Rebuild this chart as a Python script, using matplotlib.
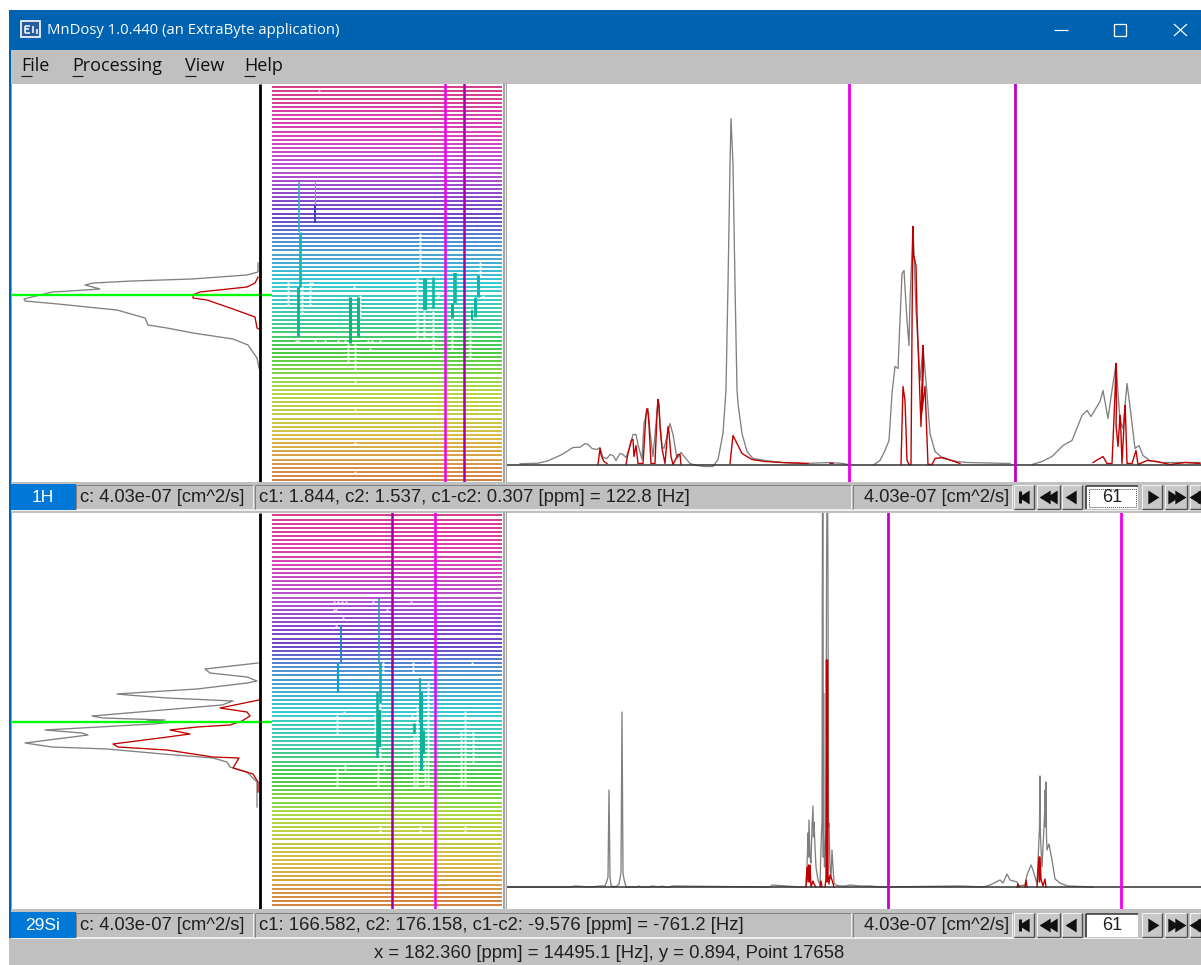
import numpy as np
import matplotlib
matplotlib.use("Agg")
import matplotlib.pyplot as plt
from matplotlib.colors import LinearSegmentedColormap
from matplotlib.patches import Rectangle

# ---------- text ----------
TITLE = "MnDosy 1.0.440 (an ExtraByte application)"
MENU = ["File", "Processing", "View", "Help"]
NUCLEI = ["1H", "29Si"]
LEFT_STATUS = ["c: 4.03e-07 [cm^2/s]", "c: 4.03e-07 [cm^2/s]"]
MID_STATUS = ["c1: 1.844, c2: 1.537, c1-c2: 0.307 [ppm] = 122.8 [Hz]",
              "c1: 166.582, c2: 176.158, c1-c2: -9.576 [ppm] = -761.2 [Hz]"]
RIGHT_STATUS = ["4.03e-07 [cm^2/s]", "4.03e-07 [cm^2/s]"]
ROW_INDEX = "61"
BOTTOM = "x = 182.360 [ppm] = 14495.1 [Hz], y = 0.894, Point 17658"

# ---------- 1H 1D spectrum ----------
h1_gray_x = [520,538,548,562,573,580,585,588,592,597,600,603,607,610,613,616,620,623,626,629,633,636,638,642,644,648,650,653,656,658,662,664,667,670,673,677,681,685,690,697,705,713,718,723,726,728,730,731,733,735,737,738,742,747,753,765,782,805,830,843,848]
h1_gray_y = [.7,1.3,3.7,10,17,17.3,21,20,16,15,17,7,6,10,9,4,11,10,7,15,30,30,20,5,41,56,33,8,41,65,18,16,28,41,30,6,12,7,1,-1,-2,-2,5,31,75,180,300,346,300,180,75,61,31,13,6,4,2,1,2,1,0]
h1_gray2_x = [874,880,885,889,892,895,898,900,902,904,907,909,910,913,916,918,920,923,927,930,935,943,957,967,1010]
h1_gray2_y = [0,4,14,24,71,98,96,144,191,194,144,119,164,238,154,121,84,118,71,31,13,6,3,2,1]
h1_gray3_x = [1032,1042,1052,1063,1072,1082,1087,1091,1100,1103,1108,1112,1116,1120,1123,1127,1130,1135,1139,1143,1150,1160,1200]
h1_gray3_y = [0,3,8,19,24,49,54,48,63,74,46,74,101,44,36,81,58,16,19,9,4,2,2]
h1_red_x = [598,600,601,602,604,607,None,626,628,631,632,633,634,636,638,640,643,646,647,648,649,651,655,657,658,659,660,662,665,667,668,669,671,673,677,678,680,681,None,730,733,737,742,752,765,782,808,None,830,833,None,
            901,903,905,907,909,911,912.5,913,913.5,916,917,918,921,923,923.5,921.5,925,928,932,935,943,960,None,1093,1103,1107,1112,1115,1116,1116.5,1116,1118,1120,1120.5,1122,1125,1125.5,1127,1132,1136,1138,1147,1157,1170,1185,1200]
h1_red_y = [0,16,10,7,3,1,None,0,11,23,25,25,8,19,1,1,1,50,56,52,40,1,1,50,65,60,38,16,1,25,38,32,8,0,8,10,10,0,None,1,29,21,11,5,3,2,1,None,1,1,None,
            0,78,64,4,0,0,200,238,210,199,151,121,38,119,100,50,78,0,0,6,7,1,None,2,8,1,1,70,101,60,40,18,49,45,1,59,50,1,1,14,0,4,3,0,2,1]

# ---------- 29Si 1D spectrum ----------
si_gray_x = [508,570,575,590,600,605,607,608,609,610,611,613,617,619,621,622,623,624,626,637,639,641,650,652,660,662,665,670,672,770,772,800,806,807,808,808.5,809,810,811,812,813,813.5,814,815,816,818,820,821,822,822.5,823,823.3,823.6,824,824.5,826,826.5,827,827.5,828,828.5,829,830,831,832,833,834,836,840,845,850,860,870,880,960,
             983,990,1000,1003,1007,1010,1017,1019,1025,1027,1031,1033,1037,1039.5,1040,1040.5,1042,1044.5,1045,1045.5,1046,1046.5,1047,1049,1052,1055,1060,1065,1068,1093]
si_gray_y = [0,0,1,0,1,1,6,10,97,10,2,0,1,3,14,175,14,8,0,0,1,0,0,1,0,1,0,0,1,0,2,0,0,20,54,30,67,30,24,60,81,50,65,40,20,7,2,40,67,400,400,30,194,40,20,60,307,400,400,307,60,64,20,8,37,20,4,2,1,1,2,1,1,0,1,
             0,2,7,4,13,7,5,1,2,12,22,17,3,60,111,50,20,70,97,60,105,50,37,43,27,8,4,2,1,0]
si_red_x = [806,807,808,808.5,809.5,810,811,813,814,816,None,820,821,822,None,825,826,826.5,827,827.5,828,829,830,832,834,None,1017,1018,1019,None,1025,1026,1027,None,1037,1039,1039.5,1040,1041,1043,1045,1046]
si_red_y = [0,20,5,22,5,22,0,6,3,0,None,0,6,0,None,0,8,227,5,227,12,3,12,7,0,None,0,3,0,None,0,7,0,None,0,30,5,30,8,1,8,0]

# ---------- projections (position along the row axis, intensity from the axis) ----------
p1_gray_pos = [263,272,275,279,281,283,285,289,291,292,299,301,304,308,310,318,325,328,333,339,345,358,368]
p1_gray_val = [2,2,13,68,128,167,175,160,190,208,236,235,202,163,143,115,112,93,67,27,12,3,1]
p1_red_pos = [277,283,287,292,295,298,300,309,317,328,329]
p1_red_val = [2,5,13,60,67,67,53,27,5,3,1]
p2_gray_pos = [663,669,673,677,681,683,689,693,694,695,698,701,705,716,718,720,721,722,724,730,733,735,743,747,749,754,758,762,767,772,782,807]
p2_gray_val = [2,55,50,13,3,13,63,128,143,132,93,27,38,168,157,95,113,85,107,215,178,172,235,208,153,97,47,33,30,13,3,3]
p2_red_pos = [700,708,712,716,721,725,727,730,734,738,744,747,750,757,758,768,774,782,792]
p2_red_val = [1,40,13,10,18,30,63,90,70,100,147,142,93,47,21,27,7,2,2]

# ---------- 2D map peaks: x, first row, last row, width, colour ----------
map1_peaks = [(299,182,232,1.6,"#30b0b8"),(300,232,287,2.6,"#10b8a8"),(298,287,337,2.8,"#10b090"),
              (315,182,205,1.2,"#a080d0"),(315,205,223,2.0,"#4040c0"),
              (350,297,343,3.0,"#10b080"),(358,297,337,3.0,"#10b888"),
              (425,278,310,4.0,"#10b8a0"),(433,277,308,2.6,"#10b8a0"),(455,273,303,3.6,"#10b8a0"),
              (452,303,318,3.0,"#10b090"),(478,275,297,3.0,"#10b8b0"),(475,297,317,3.0,"#10b8a0"),(472,310,320,2.0,"#10b090")]
map2_peaks = [(341,625,662,1.8,"#2080c0"),(338,663,693,2.2,"#10a0c0"),(379,598,663,1.6,"#20a0b0"),
              (380,663,703,2.6,"#10b0b0"),(377,692,757,2.6,"#10b0a0"),(379,710,747,4.4,"#10b090"),
              (420,678,723,1.8,"#10b0b0"),(421,692,770,3.0,"#10b0a0"),(414,723,733,2.6,"#10b090"),(423,730,753,3.0,"#10b090")]
# white breaks in the rows: x, first row, last row
map1_breaks = [(288,280,307),(310,280,307),(420,233,272),(417,277,340),(424,310,340),(433,308,350),(452,318,350),
               (470,320,360),(480,262,277),(483,295,299),(438,295,299),(355,343,372),(348,343,362),(296,338,342),
               (315,338,342),(325,338,342),(338,338,342),(345,338,342),(368,338,342),(372,338,342),(380,338,342),
               (298,310,342),(302,285,315),(312,280,284),(319,90,92),(354,285,290),(360,295,320),(355,380,384),(355,410,414),(355,440,444),(355,470,474),(370,348,352)]
map2_breaks = [(334,600,603),(338,600,603),(342,600,603),(346,600,603),(334,608,612),(336,608,612),(343,618,622),(336,625,630),
               (373,598,603),(387,608,612),(411,600,603),(383,662,672),(413,662,672),(417,707,790),(428,680,787),(434,700,710),
               (465,710,787),(461,730,790),(473,732,762),(337,715,733),(344,712,716),(337,767,787),(345,765,770),(378,763,787),
               (384,765,770),(412,715,717),(432,662,665),(472,660,664),(380,700,760),(375,715,735),(414,733,790),(425,760,790),
               (380,825,835),(420,825,835),(465,825,835)]

# ---------- cursors ----------
map1_cursors = [(445,"#f000f0"),(464,"#a800a8")]
map2_cursors = [(392,"#a000a0"),(435,"#f000f0")]
spec1_cursors = [(849,"#e800e8"),(1015,"#c000c8")]
spec2_cursors = [(888,"#c800d0"),(1121,"#f000f0")]

# ---------- row colours, top to bottom ----------
row_stops = [(0,"#d01878"),(0.12,"#d020a8"),(0.21,"#a830c8"),(0.33,"#5020c0"),(0.39,"#3078c8"),(0.5,"#10c0c8"),
             (0.59,"#20c098"),(0.67,"#20c020"),(0.77,"#a0d020"),(0.89,"#d0b020"),(1,"#d06820")]

W, H = 1201, 965
GRAY_UI = "#c0c0c0"
BLUE = "#0063b1"
plt.rcParams["font.family"] = ["Liberation Sans", "DejaVu Sans"]
fig = plt.figure(figsize=(W/100, H/100), dpi=100, facecolor="white")

def px_axes(x0, y0, x1, y1, z=1):
    a = fig.add_axes([x0/W, 1-y1/H, (x1-x0)/W, (y1-y0)/H], zorder=z)
    a.set_axis_off()
    return a

ui = px_axes(0, 0, W, H, 0)
ui.set_xlim(0, W); ui.set_ylim(H, 0)
def box(x0, y0, x1, y1, c, z=1):
    ui.add_patch(Rectangle((x0, y0), x1-x0, y1-y0, fc=c, ec="none", zorder=z))
def seg(x0, y0, x1, y1, c, lw=1.0, z=3):
    ui.plot([x0, x1], [y0, y1], color=c, lw=lw*0.72, zorder=z, solid_capstyle="butt")

# window chrome
box(9, 10, W, H, GRAY_UI)
box(9, 10, W, 50, BLUE, 2)
box(9, 50, 10.5, 938, BLUE, 2)
ui.text(47, 30, TITLE, color="white", fontsize=10.7, family="Open Sans", va="center", ha="left", zorder=5)
# app icon
ui.add_patch(Rectangle((21, 21), 19, 16, fc="#2a5c9c", ec="white", lw=1.2, zorder=5))
seg(25, 26, 30, 26, "white", 1.5, 6); seg(25, 26, 25, 33, "white", 1.5, 6); seg(25, 33, 30, 33, "white", 1.5, 6)
seg(25, 29, 29, 29, "white", 1.5, 6); seg(33, 26, 33, 33, "white", 1.5, 6); seg(37, 29, 37, 34, "white", 1.5, 6)
# window buttons
seg(1054, 30, 1068, 30, "white", 1.2, 5)
ui.add_patch(Rectangle((1114, 24), 12, 12, fc="none", ec="white", lw=0.9, zorder=5))
seg(1174, 24, 1187, 36, "white", 1.2, 5); seg(1187, 24, 1174, 36, "white", 1.2, 5)
# menu
menu_x = [21, 72, 185, 244]
ul_w = [11, 11, 11, 11]
for t, x, w_ in zip(MENU, menu_x, ul_w):
    ui.text(x, 66, t, fontsize=13.0, color="#101010", family="Open Sans", va="center", ha="left", zorder=5)
    seg(x, 76, x+w_, 76, "#202020", 1.2, 6)

panels = [dict(top=84, bot=482, base=464.5, st=484),
          dict(top=513, bot=909, base=887, st=912)]
rows_cmap = LinearSegmentedColormap.from_list("rows", row_stops)
maps = [(map1_peaks, map1_breaks, map1_cursors), (map2_peaks, map2_breaks, map2_cursors)]
spec_cursors = [spec1_cursors, spec2_cursors]
proj = [(p1_gray_pos, p1_gray_val, p1_red_pos, p1_red_val, 294.5),
        (p2_gray_pos, p2_gray_val, p2_red_pos, p2_red_val, 722)]
spec_gray = [[(h1_gray_x, h1_gray_y), (h1_gray2_x, h1_gray2_y), (h1_gray3_x, h1_gray3_y)], [(si_gray_x, si_gray_y)]]
spec_red = [(h1_red_x, h1_red_y), (si_red_x, si_red_y)]
GR, RD = "#808080", "#c00000"
LEFT_TRI = [(-1, 0), (0.6, 1.0), (0.6, -1.0)]
RIGHT_TRI = [(1, 0), (-0.6, 1.0), (-0.6, -1.0)]

for i, p in enumerate(panels):
    top, bot, base, st = p["top"], p["bot"], p["base"], p["st"]
    box(10.5, top, 12, bot, "#a0a0a0", 3)
    box(12, top, W, bot, "white", 2)
    box(503, top-1, 507, bot, "#a8a8a8", 3)
    seg(505, top-1, 505, bot, "#e8e8e8", 1, 4)
    # projection
    a = px_axes(12, top, 272, bot, 2)
    a.set_xlim(248, -12); a.set_ylim(bot, top)
    gp, gv, rp, rv, cur = proj[i]
    a.plot(gv, gp, color=GR, lw=0.95)
    a.plot(rv, rp, color=RD, lw=0.95)
    a.axhline(cur, color="#00ff00", lw=1.7, zorder=4)
    a.plot([0, 0], [top, bot], color="black", lw=2.0, zorder=5, solid_capstyle="butt")
    # 2D map
    m = px_axes(272, top, 502, bot, 2)
    m.set_xlim(272, 502); m.set_ylim(bot, top)
    rows = np.arange(top+2.5, bot, 4.1)
    fr = np.linspace(0, 1, len(rows))
    m.hlines(rows, 272, 502, colors=rows_cmap(fr), lw=1.2, zorder=1)
    peaks, breaks, curs = maps[i]
    for bx, b0, b1 in breaks:
        sel = rows[(rows >= b0) & (rows <= b1)]
        m.plot([bx]*len(sel), sel, "s", ms=1.3, mfc="white", mec="none", zorder=2)
    for px_, y0, y1, lw_, c in peaks:
        m.plot([px_, px_], [y0, y1], color=c, lw=lw_*0.72, zorder=3, solid_capstyle="butt")
    for cx, c in curs:
        m.axvline(cx, color=c, lw=1.8, zorder=4)
    # 1D spectrum
    s = px_axes(507, top, W, bot, 2)
    s.set_xlim(507, W); s.set_ylim(base-bot, base-top)
    for gx, gy in spec_gray[i]:
        s.plot(gx, gy, color=GR, lw=0.95, zorder=2)
    rx = [np.nan if v is None else v for v in spec_red[i][0]]
    ry = [np.nan if v is None else v for v in spec_red[i][1]]
    s.plot(rx, ry, color=RD, lw=1.0, zorder=3)
    s.axhline(0, color="#303030", lw=1.1, zorder=4)
    for cx, c in spec_cursors[i]:
        s.axvline(cx, color=c, lw=2.0, zorder=5)
    # status bar
    yc = st + 13
    box(11, st, 76, st+26, "#0078d7", 3)
    ui.text(43, yc, NUCLEI[i], color="white", fontsize=12.5, ha="center", va="center", zorder=5)
    for x0, x1 in [(76, 253), (255, 851), (853, 1012)]:
        seg(x0, st+1, x1, st+1, "#808080", 1, 4); seg(x0, st+1, x0, st+25, "#808080", 1, 4)
        seg(x0, st+25, x1, st+25, "#f0f0f0", 1, 4); seg(x1, st+1, x1, st+25, "#f0f0f0", 1, 4)
    ui.text(80, yc, LEFT_STATUS[i], fontsize=13.2, color="#202020", va="center", zorder=5)
    ui.text(259, yc, MID_STATUS[i], fontsize=13.3, color="#202020", va="center", zorder=5)
    ui.text(864, yc, RIGHT_STATUS[i], fontsize=13.2, color="#202020", va="center", zorder=5)
    # navigator
    for x0, x1 in [(1014, 1034), (1037, 1060), (1062, 1082), (1142, 1162), (1165, 1187), (1190, W)]:
        box(x0, st+1, x1, st+25, "#c8c8c8", 3)
        seg(x0, st+1, x1, st+1, "#f4f4f4", 1, 4); seg(x0, st+1, x0, st+25, "#f4f4f4", 1, 4)
        seg(x0, st+25, x1, st+25, "#505050", 1.4, 4); seg(x1, st+1, x1, st+25, "#505050", 1.4, 4)
    box(1087, st+2, 1138, st+25, "white", 4)
    seg(1086, st+2, 1138, st+2, "#303030", 1.5, 5); seg(1086, st+2, 1086, st+25, "#303030", 1.5, 5)
    if i == 0:
        ui.add_patch(Rectangle((1089, st+5), 47, 18, fc="none", ec="#404040", lw=0.7, ls=(0, (1, 1)), zorder=5))
    ui.text(1112, yc, ROW_INDEX, fontsize=13.0, color="#202020", ha="center", va="center", zorder=6)
    ltri = dict(marker=LEFT_TRI, color="#101010", ms=10, mew=0, zorder=6, ls="none")
    rtri = dict(marker=RIGHT_TRI, color="#101010", ms=10, mew=0, zorder=6, ls="none")
    ui.plot([1025], [yc], **ltri); seg(1020, yc-6, 1020, yc+6, "#101010", 3, 6)
    ui.plot([1046, 1053], [yc, yc], **ltri)
    ui.plot([1072], [yc], **ltri)
    ui.plot([1152], [yc], **rtri)
    ui.plot([1172, 1179], [yc, yc], **rtri)
    ui.plot([1196], [yc], **ltri); seg(1199, yc-6, 1199, yc+6, "#101010", 3, 6)

seg(11, 510, W, 510, "#f0f0f0", 1, 3)
seg(11, 938, W, 938, "#f0f0f0", 1, 3)
ui.text(609, 954, BOTTOM, fontsize=13.3, color="#202020", ha="center", va="center", zorder=5)
fig.savefig("out.png", dpi=100)
